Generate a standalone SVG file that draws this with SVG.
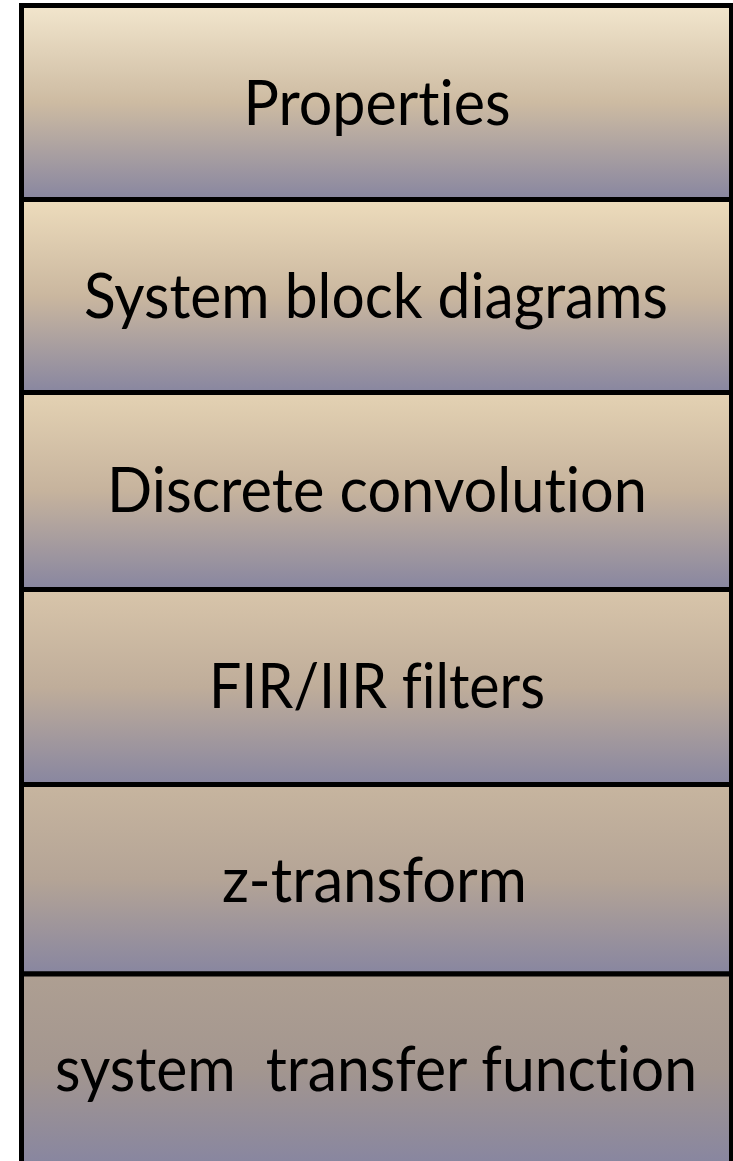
<svg xmlns="http://www.w3.org/2000/svg" width="733" height="1161" viewBox="0 0 733 1161">
<defs>
<linearGradient id="g1" x1="0" y1="0" x2="0" y2="1"><stop offset="0" stop-color="#F2E6CD"/><stop offset="0.5" stop-color="#CDBBA2"/><stop offset="1" stop-color="#8886A0"/></linearGradient>
<linearGradient id="g2" x1="0" y1="0" x2="0" y2="1"><stop offset="0" stop-color="#EDDCBC"/><stop offset="0.5" stop-color="#CAB79F"/><stop offset="1" stop-color="#8886A0"/></linearGradient>
<linearGradient id="g3" x1="0" y1="0" x2="0" y2="1"><stop offset="0" stop-color="#E4D2B3"/><stop offset="0.5" stop-color="#C6B39D"/><stop offset="1" stop-color="#8886A0"/></linearGradient>
<linearGradient id="g4" x1="0" y1="0" x2="0" y2="1"><stop offset="0" stop-color="#D8C5AA"/><stop offset="0.5" stop-color="#BFAD9A"/><stop offset="1" stop-color="#8886A0"/></linearGradient>
<linearGradient id="g5" x1="0" y1="0" x2="0" y2="1"><stop offset="0" stop-color="#C7B59F"/><stop offset="0.5" stop-color="#B4A496"/><stop offset="1" stop-color="#8886A0"/></linearGradient>
<linearGradient id="g6" x1="0" y1="0" x2="0" y2="1"><stop offset="0" stop-color="#AE9F92"/><stop offset="0.5" stop-color="#A3968F"/><stop offset="1" stop-color="#8886A0"/></linearGradient>
</defs>
<style>
.box{stroke:#000;stroke-width:5}
.lbl{font-family:"Lato","Open Sans","Liberation Sans",sans-serif;font-size:61px;fill:#000;text-anchor:middle;font-variant-ligatures:none;font-feature-settings:"liga" 0,"clig" 0}
</style>
<rect width="733" height="1161" fill="#fff"/>
<g id="connectors"/>
<g id="node-properties">
<rect class="box" x="21.5" y="5.5" width="710" height="194" fill="url(#g1)"/>
<text class="lbl" x="377" y="125" textLength="267" lengthAdjust="spacingAndGlyphs">Properties</text>
</g>
<g id="node-block-diagrams">
<rect class="box" x="21.5" y="199.5" width="710" height="193" fill="url(#g2)"/>
<text class="lbl" x="376" y="318" textLength="584" lengthAdjust="spacingAndGlyphs">System block diagrams</text>
</g>
<g id="node-convolution">
<rect class="box" x="21.5" y="392.5" width="710" height="197" fill="url(#g3)"/>
<text class="lbl" x="377" y="512" textLength="540" lengthAdjust="spacingAndGlyphs">Discrete convolution</text>
</g>
<g id="node-filters">
<rect class="box" x="21.5" y="589.5" width="710" height="195" fill="url(#g4)"/>
<text class="lbl" x="377" y="708" textLength="336" lengthAdjust="spacingAndGlyphs">FIR/IIR filters</text>
</g>
<g id="node-ztransform">
<rect class="box" x="21.5" y="784.5" width="710" height="189.5" fill="url(#g5)"/>
<text class="lbl" x="374.5" y="902" textLength="305" lengthAdjust="spacingAndGlyphs">z-transform</text>
</g>
<g id="node-transfer">
<rect class="box" x="21.5" y="974" width="710" height="189.5" fill="url(#g6)"/>
<text class="lbl" x="376" y="1091" textLength="642" lengthAdjust="spacingAndGlyphs" xml:space="preserve">system  transfer function</text>
</g>
</svg>
